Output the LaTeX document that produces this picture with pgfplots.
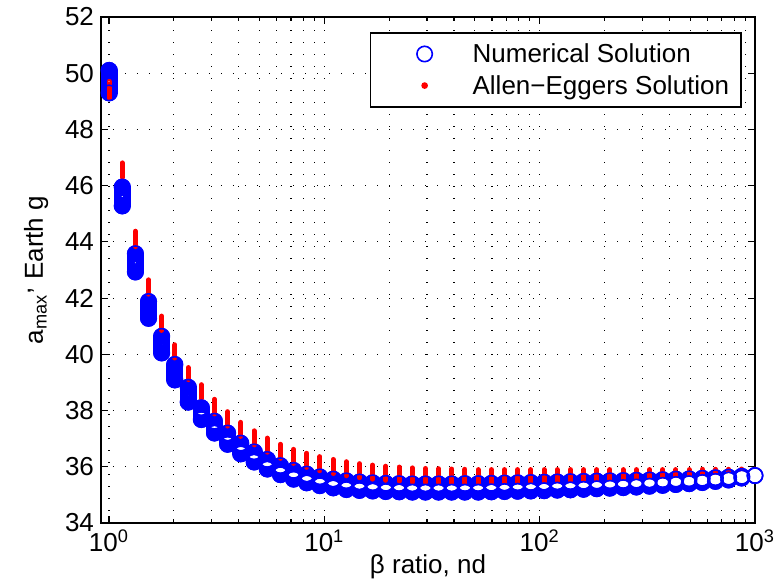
\documentclass[border=0pt]{standalone}
\usepackage{fontspec}
\setmainfont{Liberation Sans}
\usepackage{pgfplots}
\usepackage{pgfplotstable}
\pgfplotsset{compat=1.18}
\definecolor{mBlue}{RGB}{0,0,255}
\definecolor{mRed}{RGB}{255,0,0}

% beta, numerical stack top/bottom, Allen-Eggers stack top/bottom
\pgfplotstableread{
x bhi blo rhi rlo
1 50.10 49.30 49.71 49.10
1.1514 45.95 45.28 46.81 46.29
1.3257 43.58 42.93 44.38 43.83
1.5264 41.88 41.28 42.65 42.14
1.7575 40.64 40.05 41.36 40.85
2.0236 39.64 39.09 40.34 39.87
2.3300 38.83 38.30 39.53 39.10
2.6828 38.10 37.68 38.92 38.43
3.0890 37.62 37.20 38.40 37.88
3.5566 37.20 36.80 37.96 37.45
4.0951 36.84 36.46 37.58 37.08
4.7151 36.53 36.17 37.28 36.78
5.4290 36.26 35.92 37.02 36.52
6.2509 36.04 35.72 36.80 36.30
7.1973 35.87 35.56 36.62 36.12
8.2869 35.74 35.43 36.48 35.98
9.5416 35.64 35.33 36.36 35.86
10.986 35.56 35.25 36.26 35.76
12.649 35.50 35.19 36.18 35.68
14.563 35.46 35.16 36.11 35.61
16.768 35.43 35.14 36.06 35.56
19.307 35.41 35.12 36.02 35.52
22.230 35.40 35.11 35.99 35.49
25.595 35.39 35.10 35.96 35.46
29.471 35.39 35.10 35.94 35.45
33.932 35.39 35.10 35.93 35.44
39.069 35.39 35.10 35.92 35.43
44.984 35.40 35.10 35.91 35.43
51.795 35.40 35.10 35.90 35.43
59.636 35.41 35.11 35.90 35.43
68.665 35.42 35.12 35.90 35.44
79.060 35.43 35.13 35.90 35.45
91.030 35.44 35.14 35.90 35.46
104.81 35.45 35.15 35.90 35.47
120.68 35.46 35.17 35.90 35.48
138.95 35.47 35.18 35.90 35.50
159.99 35.48 35.20 35.90 35.52
184.21 35.49 35.22 35.90 35.54
212.10 35.50 35.24 35.90 35.56
244.21 35.51 35.26 35.90 35.58
281.19 35.52 35.28 35.90 35.60
323.76 35.53 35.31 35.90 35.62
372.76 35.54 35.34 35.90 35.64
429.19 35.56 35.37 35.90 35.67
494.17 35.57 35.40 35.90 35.70
568.99 35.59 35.44 35.91 35.74
655.13 35.61 35.48 35.91 35.78
754.31 35.63 35.53 35.91 35.82
868.51 35.66 35.60 35.92 35.87
1000 35.69 35.685 35.92 35.915
}\amaxdata

\begin{document}
\begin{tikzpicture}
\begin{axis}[
  scale only axis,
  width=327pt, height=253pt,
  xmode=log,
  xmin=0.918, xmax=1000,
  ymin=34, ymax=52,
  xtick={1,10,100,1000},
  xticklabels={10\textsuperscript{0},10\textsuperscript{1},10\textsuperscript{2},10\textsuperscript{3}},
  ytick={34,36,...,52},
  minor y tick num=0,
  grid=both,
  major grid style={black, line width=0.6pt, dash pattern=on 0.6pt off 5.4pt},
  minor grid style={black, line width=0.6pt, dash pattern=on 0.6pt off 5.4pt},
  axis line style={line width=0.8pt},
  tick style={black, line width=0.6pt},
  major tick length=3.3pt, minor tick length=1.8pt,
  tick align=inside,
  tick label style={font=\fontsize{13}{15}\selectfont},
  yticklabel style={/pgf/number format/assume math mode=true},
  xlabel={β ratio, nd},
  ylabel={a\textsubscript{max}\raisebox{0.9ex}{,} Earth g},
  every axis x label/.style={at={(axis description cs:0.5,-0.087)}, anchor=center,
    font=\fontsize{13}{15}\selectfont},
  every axis y label/.style={at={(axis description cs:-0.099,0.5)}, rotate=90, anchor=center,
    font=\fontsize{13}{15}\selectfont},
  legend style={at={(axis description cs:0.9801,0.9704)}, anchor=north east,
    draw=black, line width=0.8pt, fill=white,
    font=\fontsize{13}{15}\selectfont,
    inner xsep=5pt, inner ysep=4pt, row sep=2.6pt,
    nodes={inner sep=1pt, text height=10pt, text depth=1.2pt}},
  legend cell align=left,
  legend image code/.code={\path[draw=none, fill=none] (0pt,-1pt) rectangle (45pt,1pt);
    \path[draw=none, fill=none, #1] plot coordinates {(22pt,0pt)};},
]
% numerical solution: each stack of open circles
\addplot[forget plot, draw=none, mark=none,
  error bars/.cd, y dir=both, y explicit, error mark=none,
  error bar style={draw=mBlue, line width=8.5pt, line cap=round}]
  table[x=x, y expr={(\thisrow{bhi}+\thisrow{blo})/2},
        y error expr={(\thisrow{bhi}-\thisrow{blo})/2}] {\amaxdata};
% uncovered middle of the short stacks
\addplot[forget plot, only marks, scatter, mark=*, mark size=0.01pt, white,
  scatter/use mapped color={draw=white, fill=white},
  visualization depends on={sqrt(max(11.9025-((\thisrow{bhi}-\thisrow{blo})*7.0278)^2,0.0001)) \as \holea},
  visualization depends on={max(3.45-(\thisrow{bhi}-\thisrow{blo})*7.0278,0.01) \as \holeb},
  scatter/@pre marker code/.code={\pgfsetfillcolor{white}%
    \pgfpathellipse{\pgfpointorigin}{\pgfqpoint{\holea pt}{0pt}}{\pgfqpoint{0pt}{\holeb pt}}%
    \pgfusepath{fill}},
  scatter/@post marker code/.code={}]
  table[x=x, y expr={(\thisrow{bhi}+\thisrow{blo})/2}] {\amaxdata};
\addplot[forget plot, only marks, mark=o, mark size=3.85pt, mBlue, line width=0.8pt]
  table[x=x, y=bhi] {\amaxdata};
\addplot[forget plot, only marks, mark=o, mark size=3.85pt, mBlue, line width=0.8pt]
  table[x=x, y=blo] {\amaxdata};
% Allen-Eggers solution
\addplot[forget plot, draw=none, mark=none,
  error bars/.cd, y dir=both, y explicit, error mark=none,
  error bar style={draw=mRed, line width=2.5pt, line cap=round}]
  table[x=x, y expr={(\thisrow{rhi}+\thisrow{rlo})/2},
        y error expr={(\thisrow{rhi}-\thisrow{rlo})/2}] {\amaxdata};

\addlegendimage{only marks, mark=o, mark size=3.85pt, mark options={draw=mBlue, fill=none, line width=0.8pt}}
\addlegendentry{Numerical Solution}
\addlegendimage{only marks, mark=*, mark size=1.25pt, mark options={draw=mRed, fill=mRed}}
\addlegendentry{Allen−Eggers Solution}
\end{axis}
\pgfresetboundingbox
\path ([xshift=-50.5pt,yshift=-29.5pt]current axis.south west)
  rectangle ([xshift=11pt,yshift=8.5pt]current axis.north east);
\end{tikzpicture}
\end{document}
